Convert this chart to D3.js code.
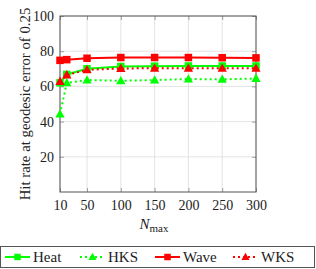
<!DOCTYPE html>
<html>
<head>
<meta charset="utf-8">
<script src="https://cdn.jsdelivr.net/npm/d3@7"></script>
<style>
  body { margin: 0; background: #fff; }
  svg { font-family: "Liberation Serif", "DejaVu Serif", serif; }
</style>
</head>
<body>
<div id="chart"></div>
<script>
const nValues = [10, 20, 50, 100, 150, 200, 250, 300];
const heat = [62, 66.8, 70, 71.3, 71.5, 71.6, 71.6, 71.6];
const hks = [44.3, 62, 63.6, 63.2, 63.6, 64.2, 64, 64.5];
const wave = [74.8, 75.2, 76, 76.4, 76.4, 76.4, 76.3, 76.2];
const wks = [62.8, 66.5, 69.4, 70.2, 70.3, 70.3, 70.3, 70.3];
const xTicks = [10, 50, 100, 150, 200, 250, 300];
const yTicks = [20, 40, 60, 80, 100];

const series = [
  { name: 'Heat', values: heat, color: '#00ff00', dash: null, marker: 'square' },
  { name: 'HKS', values: hks, color: '#00ff00', dash: '2,3', marker: 'triangle' },
  { name: 'Wave', values: wave, color: '#ff0000', dash: null, marker: 'square' },
  { name: 'WKS', values: wks, color: '#ff0000', dash: '2,3', marker: 'triangle' },
];

const margin = { top: 16, left: 60 };
const width = 196;
const height = 176;

const svg = d3.select('#chart')
  .append('svg')
  .attr('width', 316)
  .attr('height', 269);

const g = svg.append('g')
  .attr('transform', `translate(${margin.left},${margin.top})`);

const xScale = d3.scaleLinear().domain([10, 300]).range([0, width]);
const yScale = d3.scaleLinear().domain([0, 100]).range([height, 0]);

// grid
g.selectAll('line.xgrid')
  .data(xTicks)
  .enter()
  .append('line')
  .attr('x1', (d) => xScale(d))
  .attr('x2', (d) => xScale(d))
  .attr('y1', 0)
  .attr('y2', height)
  .attr('stroke', '#dcdcdc')
  .attr('stroke-width', 0.8);

g.selectAll('line.ygrid')
  .data(yTicks)
  .enter()
  .append('line')
  .attr('x1', 0)
  .attr('x2', width)
  .attr('y1', (d) => yScale(d))
  .attr('y2', (d) => yScale(d))
  .attr('stroke', '#dcdcdc')
  .attr('stroke-width', 0.8);

// axes with inner ticks
g.append('g')
  .attr('transform', `translate(0,${height})`)
  .call(d3.axisBottom(xScale).tickValues(xTicks).tickSizeInner(-4).tickSizeOuter(0).tickPadding(8));
g.append('g')
  .call(d3.axisLeft(yScale).tickValues(yTicks).tickSizeInner(-4).tickSizeOuter(0).tickPadding(6));
g.append('g')
  .attr('transform', `translate(${width},0)`)
  .call(d3.axisRight(yScale).tickValues(yTicks).tickSizeInner(-4).tickSizeOuter(0).tickFormat(''));
g.append('g')
  .call(d3.axisTop(xScale).tickValues(xTicks).tickSizeInner(-4).tickSizeOuter(0).tickFormat(''));

g.selectAll('.domain').remove();
g.selectAll('.tick line').attr('stroke', '#666').attr('stroke-width', 0.6);
g.selectAll('.tick text')
  .style('font-family', '"Liberation Serif", serif')
  .style('font-size', '14px')
  .attr('fill', '#222');

g.append('rect')
  .attr('width', width)
  .attr('height', height)
  .attr('fill', 'none')
  .attr('stroke', '#555')
  .attr('stroke-width', 1);

// lines & markers
function drawMarker(sel, type, color, size) {
  if (type === 'square') {
    sel.append('rect')
      .attr('x', -size / 2)
      .attr('y', -size / 2)
      .attr('width', size)
      .attr('height', size)
      .attr('fill', color);
  } else {
    const s = size * 0.62;
    sel.append('path')
      .attr('d', `M0,${-s * 1.05}L${s * 1.0},${s * 0.75}L${-s * 1.0},${s * 0.75}Z`)
      .attr('fill', color);
  }
}

series.forEach((s) => {
  const pts = nValues.map((n, i) => ({ n: n, v: s.values[i] }));
  const line = d3.line()
    .x((d) => xScale(d.n))
    .y((d) => yScale(d.v));

  g.append('path')
    .datum(pts)
    .attr('fill', 'none')
    .attr('stroke', s.color)
    .attr('stroke-width', 2)
    .attr('stroke-dasharray', s.dash)
    .attr('d', line);

  pts.forEach((d) => {
    const m = g.append('g')
      .attr('transform', `translate(${xScale(d.n)},${yScale(d.v)})`);
    drawMarker(m, s.marker, s.color, 7.5);
  });
});

// axis labels
svg.append('text')
  .attr('transform', `translate(25,${margin.top + height / 2}) rotate(-90)`)
  .attr('text-anchor', 'middle')
  .attr('dominant-baseline', 'central')
  .style('font-size', '14.8px')
  .attr('fill', '#222')
  .text('Hit rate at geodesic error of 0.25');

const xl = svg.append('text')
  .attr('x', margin.left + width / 2 - 4)
  .attr('y', 229)
  .attr('text-anchor', 'middle')
  .style('font-size', '15px')
  .attr('fill', '#222');
xl.append('tspan').style('font-style', 'italic').text('N');
xl.append('tspan').attr('dy', 3).style('font-size', '11px').text('max');

// legend
const legend = svg.append('g');
legend.append('rect')
  .attr('x', 0.5)
  .attr('y', 246.5)
  .attr('width', 314)
  .attr('height', 21)
  .attr('fill', '#fff')
  .attr('stroke', '#555')
  .attr('stroke-width', 1);

const legendX = [5, 80, 155, 233];
series.forEach((s, i) => {
  const lg = legend.append('g')
    .attr('transform', `translate(${legendX[i]},257)`);
  lg.append('line')
    .attr('x1', 0)
    .attr('x2', 25)
    .attr('stroke', s.color)
    .attr('stroke-width', 2)
    .attr('stroke-dasharray', s.dash);
  const m = lg.append('g').attr('transform', 'translate(12.5,0)');
  drawMarker(m, s.marker, s.color, 6.5);
  lg.append('text')
    .attr('x', 28)
    .attr('y', 0)
    .attr('dominant-baseline', 'central')
    .style('font-size', '15px')
    .attr('fill', '#222')
    .text(s.name);
});
</script>
</body>
</html>
